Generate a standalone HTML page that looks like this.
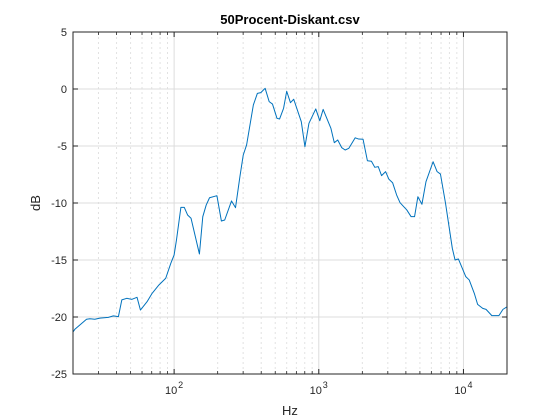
<!DOCTYPE html>
<html><head><meta charset="utf-8"><style>
html,body{margin:0;padding:0;background:#fff;}
svg{display:block;font-family:"Liberation Sans",Arial,sans-serif;}
</style></head><body>
<svg id="chart" width="560" height="420" viewBox="0 0 560 420">
<rect x="0" y="0" width="560" height="420" fill="#fff"/>
<text x="290" y="24" text-anchor="middle" font-size="13" font-weight="bold" fill="#000">50Procent-Diskant.csv</text>
<text x="290" y="415" text-anchor="middle" font-size="13" fill="#262626">Hz</text>
<text transform="translate(40,203) rotate(-90)" text-anchor="middle" font-size="13" fill="#262626">dB</text>
<g id="grid"></g>
<g id="series"></g>
<g id="axes"></g>
</svg>
<script>
const freqs = [19,20.6,22.3,24.8,26.2,28.3,30.7,35.1,38,41.2,43.5,47.1,51.1,55.4,58.5,65,70.5,78.5,87.5,94.8,100,103.8,111.4,117.5,123.9,130.9,149.6,157.8,166.6,175.7,197.6,212.2,223.7,249.3,265.7,284.9,300.5,317,353,376.4,397.4,425.7,454,478.6,514,536,571,600,637,671,757,802,855,953,1016,1072,1213,1280,1352,1442,1521,1614,1786,1884,2023,2168,2312,2438,2577,2717,2897,3055,3238,3453,3645,4057,4348,4592,4842,5164,5508,6166,6577,6934,7518,8375,8750,9226,10380,10960,11880,12530,13590,14330,15710,17580,18750,20900];
const dbValues = [-21.73,-21.08,-20.7,-20.2,-20.15,-20.2,-20.1,-20.03,-19.9,-19.97,-18.5,-18.36,-18.45,-18.27,-19.39,-18.66,-17.92,-17.19,-16.6,-15.3,-14.56,-13.25,-10.38,-10.38,-11.05,-11.34,-14.47,-11.2,-10.18,-9.54,-9.36,-11.58,-11.49,-9.82,-10.41,-7.69,-5.79,-4.91,-1.4,-0.38,-0.32,0.06,-1.11,-1.32,-2.57,-2.63,-1.69,-0.2,-1.2,-0.9,-2.87,-5.06,-3.01,-1.75,-2.78,-1.79,-3.45,-4.71,-4.47,-5.15,-5.35,-5.2,-4.28,-4.39,-4.41,-6.29,-6.34,-6.87,-6.81,-7.6,-7.25,-7.92,-8.22,-9.3,-9.97,-10.61,-11.2,-11.2,-9.45,-10.11,-8.13,-6.38,-7.25,-7.46,-10.03,-13.97,-15.0,-14.91,-16.46,-16.75,-17.92,-18.89,-19.24,-19.33,-19.88,-19.88,-19.33,-18.95];
const yTicks = [5,0,-5,-10,-15,-20,-25];
const xDecades = [2,3,4];
const xMin = 20, xMax = 20000, yMin = -25, yMax = 5;

const L=73,R=507,T=32,B=374;
function xs(f){return L+(Math.log10(f)-Math.log10(xMin))/(Math.log10(xMax)-Math.log10(xMin))*(R-L);}
function ys(v){return T+(yMax-v)/(yMax-yMin)*(B-T);}
const NS="http://www.w3.org/2000/svg";
function mk(tag,attrs,parent){const e=document.createElementNS(NS,tag);for(const k in attrs)e.setAttribute(k,attrs[k]);parent.appendChild(e);return e;}
const grid=document.getElementById('grid'),axes=document.getElementById('axes'),series=document.getElementById('series');

for(let d=1;d<=4;d++){for(let m=1;m<=9;m++){const f=m*Math.pow(10,d);if(f<xMin||f>xMax)continue;const x=xs(f);
  if(m===1){
    const g=mk('line',{x1:x,x2:x,y1:T,y2:B,stroke:'#dcdcdc','stroke-width':1},grid);
    
    
  } else {
    const g=mk('line',{x1:x,x2:x,y1:T,y2:B,stroke:'#e2e2e2','stroke-width':1,'stroke-dasharray':'2,3'},grid);
    
    
    const t1=mk('line',{x1:x,x2:x,y1:B,y2:B-3,stroke:'#262626','stroke-width':0.8},axes);
    
    
    const t2=mk('line',{x1:x,x2:x,y1:T,y2:T+3,stroke:'#262626','stroke-width':0.8},axes);
    
    
  }
}}
yTicks.forEach(v=>{const y=ys(v);
  const g=mk('line',{x1:L,x2:R,y1:y,y2:y,stroke:'#dcdcdc','stroke-width':1},grid);
  
  
  const t1=mk('line',{x1:L,x2:L+5,y1:y,y2:y,stroke:'#262626','stroke-width':1},axes);
  
  
  const t2=mk('line',{x1:R,x2:R-5,y1:y,y2:y,stroke:'#262626','stroke-width':1},axes);
  
  
  const lab=mk('text',{x:L-6,y:y+4,'text-anchor':'end','font-size':11,fill:'#262626'},axes);
  lab.textContent=String(v);
  
  
});
xDecades.forEach(d=>{const x=xs(Math.pow(10,d));
  const t1=mk('line',{x1:x,x2:x,y1:B,y2:B-5,stroke:'#262626','stroke-width':1},axes);
  
  
  const t2=mk('line',{x1:x,x2:x,y1:T,y2:T+5,stroke:'#262626','stroke-width':1},axes);
  
  
  const lab=mk('text',{x:x-3,y:B+20,'text-anchor':'middle','font-size':11,fill:'#262626'},axes);
  lab.textContent='10';
  
  
  const sup=mk('text',{x:x+4,y:B+14,'text-anchor':'start','font-size':9,fill:'#262626'},axes);
  sup.textContent=String(d);
  
  
});
const box=mk('rect',{x:L,y:T,width:R-L,height:B-T,fill:'none',stroke:'#262626','stroke-width':1},axes);


const pts=freqs.map((f,i)=>xs(f).toFixed(2)+','+ys(dbValues[i]).toFixed(2)).join(' ');
const cp=mk('clipPath',{id:'clip'},series);
mk('rect',{x:L,y:T,width:R-L,height:B-T},cp);
const line=mk('polyline',{points:pts,fill:'none',stroke:'#0072BD','stroke-width':1,'clip-path':'url(#clip)','stroke-linejoin':'round'},series);


</script>
</body></html>
